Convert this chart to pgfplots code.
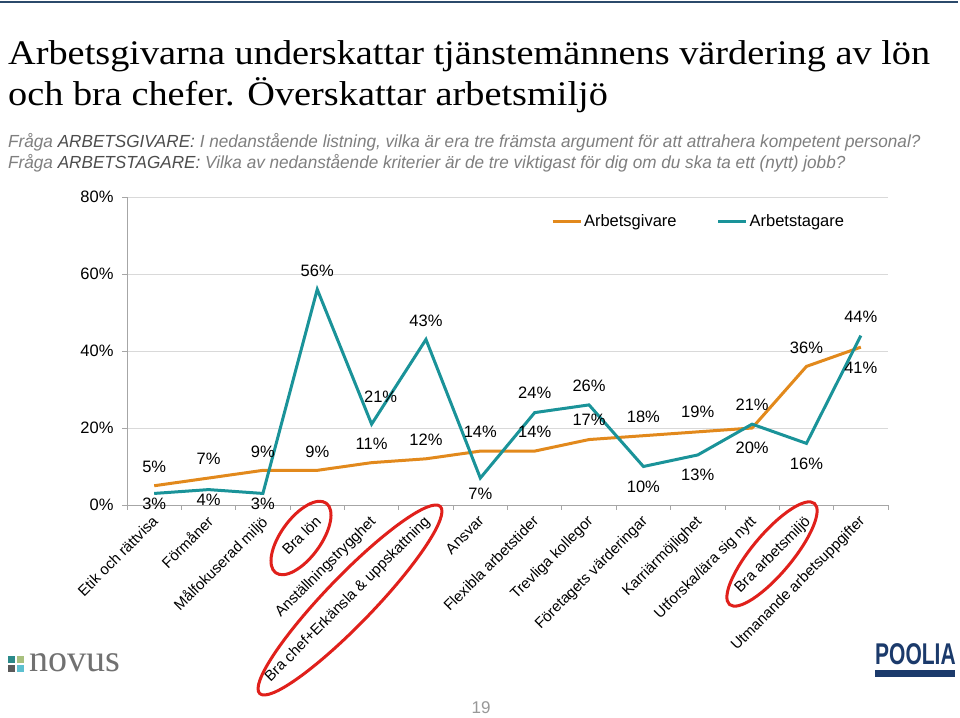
\documentclass[border=0pt]{standalone}
\usepackage{pgfplots}
\pgfplotsset{compat=1.18}
\usepackage{pgfplotstable}
\usepackage{fontspec}
\setmainfont{Liberation Sans}
\newfontfamily\titlefont{Liberation Serif}
\definecolor{orangeL}{HTML}{E2891C}
\definecolor{tealL}{HTML}{1A9399}
\definecolor{axisgray}{HTML}{A6A6A6}
\definecolor{gridgray}{HTML}{D9D9D9}
\definecolor{subgray}{HTML}{7F7F7F}
\definecolor{subdark}{HTML}{4D4D4D}
\definecolor{navy}{HTML}{1B3A6B}
\definecolor{rule}{HTML}{2B4A6B}
\definecolor{ellred}{HTML}{E0201B}
\definecolor{nvA}{HTML}{2B8A8A}
\definecolor{nvB}{HTML}{A8C07E}
\definecolor{nvC}{HTML}{5A5A5A}
\definecolor{nvD}{HTML}{5CC0D0}

\pgfplotstableread{
x y dx dy
1 5 0 19
2 7 0 19
3 9 0 19
4 9 0 19
5 11 0 19
6 12 0 19
7 14 0 19
8 14 0 19
9 17 0 20
10 18 0 19
11 19 0 20
12 20 0 -20
13 36 0 19
14 41 0 -21
}\givare

\pgfplotstableread{
x y dx dy
1 3 0 -10
2 4 0 -10
3 3 0 -10
4 56 0 19
5 21 9 27
6 43 0 19
7 7 0 -16
8 24 0 20
9 26 0 19
10 10 0 -20
11 13 0 -20
12 21 0 19
13 16 0 -20
14 44 0 19
}\tagare

\begin{document}
\begin{tikzpicture}
\path[use as bounding box] (0bp,0bp) rectangle (960bp,718bp);
\fill[white] (0bp,0bp) rectangle (960bp,718bp);
\draw[rule, line width=2bp] (0bp,716bp) -- (958bp,716bp);

\node[anchor=base west, inner sep=0pt, font=\titlefont\fontsize{34.5bp}{36bp}\selectfont] at (8bp,653bp) {\scalebox{1.11}[1]{Arbetsgivarna underskattar tjänstemännens värdering av lön}};
\node[anchor=base west, inner sep=0pt, font=\titlefont\fontsize{34.5bp}{36bp}\selectfont] at (8bp,612bp) {\scalebox{1.11}[1]{och bra chefer. Överskattar arbetsmiljö}};

\node[anchor=base west, inner sep=0pt, text=subgray, font=\itshape\fontsize{17.5bp}{18bp}\selectfont] at (8bp,570bp) {\scalebox{0.98}[1]{Fråga \textcolor{subdark}{ARBETSGIVARE:} I nedanstående listning, vilka är era tre främsta argument för att attrahera kompetent personal?}};
\node[anchor=base west, inner sep=0pt, text=subgray, font=\itshape\fontsize{17.5bp}{18bp}\selectfont] at (8bp,549bp) {\scalebox{0.98}[1]{Fråga \textcolor{subdark}{ARBETSTAGARE:} Vilka av nedanstående kriterier är de tre viktigast för dig om du ska ta ett (nytt) jobb?}};

\begin{axis}[
  at={(127bp,213bp)}, anchor=south west,
  width=761bp, height=308bp, scale only axis,
  xmin=0.5, xmax=14.5, ymin=0, ymax=80,
  clip=false,
  axis x line*=bottom, axis y line*=left,
  axis line style={draw=axisgray, line width=0.8bp},
  ymajorgrids, grid style={draw=gridgray, line width=0.8bp},
  ytick={0,20,...,80},
  yticklabel={\pgfmathprintnumber{\tick}\%},
  /pgf/number format/assume math mode=true,
  xtick={1,...,14},
  xticklabels={Etik och rättvisa, Förmåner, Målfokuserad miljö, Bra lön, Anställningstrygghet, Bra chef+Erkänsla \& uppskattning, Ansvar, Flexibla arbetstider, Trevliga kollegor, Företagets värderingar, Karriärmöjlighet, Utforska/lära sig nytt, Bra arbetsmiljö, Utmanande arbetsuppgifter},
  tick align=outside,
  major tick length=0pt, minor tick length=5bp,
  minor xtick={0.5,1.5,...,14.5}, minor ytick={0,20,...,80},
  tick style={draw=axisgray, line width=0.8bp},
  xticklabel style={xshift=-3bp, yshift=-8bp, rotate=45, anchor=north east, inner sep=1bp, font=\fontsize{15bp}{17bp}\selectfont},
  yticklabel style={font=\fontsize{16.5bp}{18bp}\selectfont, xshift=-10bp},
  legend style={at={(0.553,0.922)}, anchor=west, draw=none, fill=none, legend columns=2,
    font=\fontsize{16.5bp}{18bp}\selectfont,
    /tikz/every even column/.append style={column sep=38bp}},
  legend image code/.code={\draw[#1, line width=3bp] (0bp,0bp) -- (28bp,0bp);},
  nodes near coords={\pgfmathprintnumber{\pgfplotspointmeta}\%},
  nodes near coords align=center,
  point meta=y,
  visualization depends on={\thisrow{dx}\as\dx},
  visualization depends on={\thisrow{dy}\as\dy},
  every node near coord/.append style={xshift=\dx bp, yshift=\dy bp, text=black, font=\fontsize{16.5bp}{18bp}\selectfont},
]
\addplot[orangeL, line width=3bp, mark=none] table[x=x,y=y] {\givare};
\addlegendentry{Arbetsgivare}
\addplot[tealL, line width=3bp, mark=none] table[x=x,y=y] {\tagare};
\addlegendentry{Arbetstagare}
\end{axis}

\draw[ellred, line width=3bp] (301bp,180bp) circle[x radius=43bp, y radius=20bp, rotate=54];
\draw[ellred, line width=3bp] (350bp,118bp) circle[x radius=130bp, y radius=24bp, rotate=46];
\draw[ellred, line width=3bp] (772bp,164bp) circle[x radius=66bp, y radius=20bp, rotate=50];

% novus logo
\fill[nvA] (8bp,55bp) rectangle (15bp,62bp);
\fill[nvB] (17bp,55bp) rectangle (24bp,62bp);
\fill[nvC] (8bp,46bp) rectangle (15bp,53bp);
\fill[nvD] (17bp,46bp) rectangle (24bp,53bp);
\node[anchor=base west, inner sep=0pt, text=subdark!80, font=\titlefont\fontsize{38bp}{38bp}\selectfont] at (29bp,46bp) {novus};

% poolia logo
\node[anchor=base west, inner sep=0pt, text=navy, font=\bfseries\fontsize{30bp}{30bp}\selectfont] at (875bp,53bp) {\scalebox{0.7}[1]{POOLIA}};
\fill[navy] (875bp,41bp) rectangle (955bp,48bp);

\node[text=subgray!80, font=\fontsize{17bp}{17bp}\selectfont, inner sep=1bp] at (481bp,10bp) {19};
\end{tikzpicture}
\end{document}
